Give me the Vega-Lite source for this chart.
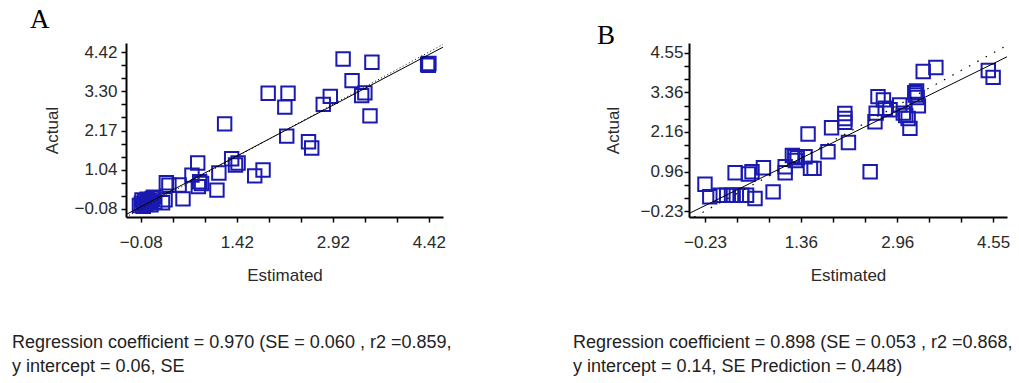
{
  "$schema": "https://vega.github.io/schema/vega-lite/v6.json",
  "background": "white",
  "padding": {"left": 12, "top": 6, "right": 5, "bottom": 5},
  "bounds": "flush",
  "spacing": 563,
  "datasets": {
    "ptsA": [
      {"est": 3.08, "act": 4.22}, {"est": 3.53, "act": 4.13}, {"est": 4.40, "act": 4.07}, {"est": 4.41, "act": 4.04}, {"est": 4.42, "act": 4.09},
      {"est": 3.22, "act": 3.60}, {"est": 3.42, "act": 3.25}, {"est": 3.37, "act": 3.17}, {"est": 3.50, "act": 2.59}, {"est": 2.88, "act": 3.15},
      {"est": 2.77, "act": 2.92}, {"est": 1.91, "act": 3.24}, {"est": 2.22, "act": 3.24}, {"est": 2.17, "act": 2.84}, {"est": 1.23, "act": 2.36},
      {"est": 2.20, "act": 2.01}, {"est": 2.54, "act": 1.85}, {"est": 2.59, "act": 1.67}, {"est": 1.34, "act": 1.36}, {"est": 1.44, "act": 1.24},
      {"est": 1.40, "act": 1.18}, {"est": 1.83, "act": 1.04}, {"est": 1.70, "act": 0.87}, {"est": 1.14, "act": 0.95}, {"est": 1.11, "act": 0.46},
      {"est": 0.81, "act": 1.24}, {"est": 0.72, "act": 0.89}, {"est": 0.84, "act": 0.70}, {"est": 0.82, "act": 0.56}, {"est": 0.87, "act": 0.65},
      {"est": 0.58, "act": 0.21}, {"est": 0.32, "act": 0.67}, {"est": 0.36, "act": 0.60}, {"est": 0.52, "act": 0.61}, {"est": 0.30, "act": 0.18},
      {"est": 0.26, "act": 0.10}, {"est": -0.10, "act": 0.02}, {"est": -0.07, "act": 0.08}, {"est": -0.04, "act": 0.00}, {"est": -0.02, "act": 0.14},
      {"est": 0.00, "act": 0.05}, {"est": 0.02, "act": 0.20}, {"est": 0.04, "act": 0.10}, {"est": 0.06, "act": 0.16}, {"est": 0.08, "act": 0.04},
      {"est": 0.10, "act": 0.22}, {"est": 0.14, "act": 0.12}, {"est": -0.06, "act": 0.18}, {"est": 0.12, "act": 0.26}
    ],
    "lineA": [
      {"est": -0.31, "act": -0.2407, "kind": "fit"}, {"est": 4.64, "act": 4.5608, "kind": "fit"},
      {"est": -0.31, "act": -0.31, "kind": "unit"}, {"est": 4.64, "act": 4.64, "kind": "unit"}
    ],
    "ptsB": [
      {"est": -0.23, "act": 0.58}, {"est": -0.15, "act": 0.20}, {"est": 0.02, "act": 0.25}, {"est": 0.13, "act": 0.25}, {"est": 0.21, "act": 0.25},
      {"est": 0.29, "act": 0.25}, {"est": 0.38, "act": 0.25}, {"est": 0.46, "act": 0.25}, {"est": 0.27, "act": 0.93}, {"est": 0.49, "act": 0.89},
      {"est": 0.55, "act": 0.96}, {"est": 0.60, "act": 0.15}, {"est": 0.74, "act": 1.08}, {"est": 0.90, "act": 0.35}, {"est": 1.10, "act": 0.93},
      {"est": 1.10, "act": 1.11}, {"est": 1.22, "act": 1.45}, {"est": 1.26, "act": 1.41}, {"est": 1.30, "act": 1.38}, {"est": 1.27, "act": 1.30},
      {"est": 1.43, "act": 1.41}, {"est": 1.52, "act": 1.06}, {"est": 1.58, "act": 1.06}, {"est": 1.48, "act": 2.10}, {"est": 1.81, "act": 1.56},
      {"est": 1.87, "act": 2.29}, {"est": 2.09, "act": 2.72}, {"est": 2.09, "act": 2.57}, {"est": 2.09, "act": 2.45}, {"est": 2.15, "act": 1.84},
      {"est": 2.51, "act": 0.96}, {"est": 2.59, "act": 2.47}, {"est": 2.64, "act": 3.23}, {"est": 2.61, "act": 2.73}, {"est": 2.73, "act": 3.13},
      {"est": 2.76, "act": 2.88}, {"est": 2.84, "act": 2.83}, {"est": 3.00, "act": 2.98}, {"est": 3.06, "act": 2.73}, {"est": 3.10, "act": 2.66},
      {"est": 3.14, "act": 2.57}, {"est": 3.17, "act": 2.27}, {"est": 3.25, "act": 3.35}, {"est": 3.28, "act": 3.40}, {"est": 3.26, "act": 3.28},
      {"est": 3.29, "act": 3.20}, {"est": 3.31, "act": 2.95}, {"est": 3.39, "act": 3.99}, {"est": 3.60, "act": 4.11}, {"est": 4.47, "act": 4.02},
      {"est": 4.55, "act": 3.81}
    ],
    "lineB": [
      {"est": -0.495, "act": -0.3045, "kind": "fit"}, {"est": 4.78, "act": 4.4324, "kind": "fit"},
      {"est": -0.41, "act": -0.41, "kind": "unit"}, {"est": 4.78, "act": 4.78, "kind": "unit"}
    ]
  },
  "hconcat": [
    {
      "title": {
        "text": ["Regression coefficient = 0.970 (SE = 0.060 , r2 =0.859,", "y intercept = 0.06, SE"],
        "orient": "bottom", "anchor": "start", "align": "left", "frame": "group",
        "font": "Liberation Sans", "fontSize": 18, "fontWeight": "normal", "color": "#222", "lineHeight": 24, "offset": 51, "dx": -114
      },
      "vconcat": [
        {
          "title": {"text": "A", "orient": "top", "anchor": "start", "frame": "group", "font": "Liberation Serif", "fontSize": 27, "fontWeight": "normal", "color": "#000", "dx": -96, "offset": 9},
          "width": 317,
          "height": 174,
          "encoding": {
            "x": {"field": "est", "type": "quantitative",
              "scale": {"domain": [-0.31, 4.64], "nice": false, "zero": false},
              "axis": {"values": [-0.08, 0.42, 0.92, 1.42, 1.92, 2.42, 2.92, 3.42, 3.92, 4.42],
                "labelExpr": "indexof([-0.08, 1.42, 2.92, 4.42], datum.value) >= 0 ? format(datum.value, '.2f') : ''",
                "title": "Estimated", "grid": false, "tickSize": 5, "tickWidth": 1.5, "tickColor": "#000",
                "domainColor": "#000", "domainWidth": 2, "labelFont": "Liberation Sans", "labelFontSize": 17, "labelColor": "#2a2a2a",
                "labelPadding": 12, "labelFlush": false, "labelOverlap": false,
                "titleFont": "Liberation Sans", "titleFontSize": 17, "titleFontWeight": "normal", "titleColor": "#2a2a2a", "titlePadding": 17}},
            "y": {"field": "act", "type": "quantitative",
              "scale": {"domain": [-0.31, 4.68], "nice": false, "zero": false},
              "axis": {"values": [-0.08, 0.295, 0.67, 1.04, 1.42, 1.795, 2.17, 2.545, 2.92, 3.3, 3.67, 4.045, 4.42],
                "labelExpr": "indexof([-0.08, 1.04, 2.17, 3.3, 4.42], datum.value) >= 0 ? format(datum.value, '.2f') : ''",
                "title": "Actual", "grid": false, "tickSize": 5, "tickWidth": 1.5, "tickColor": "#000",
                "domainColor": "#000", "domainWidth": 2, "labelFont": "Liberation Sans", "labelFontSize": 17, "labelColor": "#2a2a2a",
                "labelPadding": 4, "labelFlush": false, "labelOverlap": false,
                "titleFont": "Liberation Sans", "titleFontSize": 17, "titleFontWeight": "normal", "titleColor": "#2a2a2a", "titlePadding": 12}}
          },
          "layer": [
            {"data": {"name": "ptsA"}, "mark": {"type": "point", "shape": "square", "filled": false, "size": 180, "stroke": "#1a1ab0", "strokeWidth": 2, "opacity": 1, "clip": true}},
            {"data": {"name": "lineA"}, "transform": [{"filter": "datum.kind == 'unit'"}], "mark": {"type": "line", "color": "#000", "strokeWidth": 1, "strokeDash": [1, 2.5], "clip": true}},
            {"data": {"name": "lineA"}, "transform": [{"filter": "datum.kind == 'fit'"}], "mark": {"type": "line", "color": "#000", "strokeWidth": 1, "clip": true}}
          ]
        }
      ]
    },
    {
      "title": {
        "text": ["Regression coefficient = 0.898 (SE = 0.053 , r2 =0.868,", "y intercept = 0.14, SE Prediction = 0.448)"],
        "orient": "bottom", "anchor": "start", "align": "left", "frame": "group",
        "font": "Liberation Sans", "fontSize": 18, "fontWeight": "normal", "color": "#222", "lineHeight": 24, "offset": 51, "dx": -116
      },
      "vconcat": [
        {
          "title": {"text": "B", "orient": "top", "anchor": "start", "frame": "group", "font": "Liberation Serif", "fontSize": 27, "fontWeight": "normal", "color": "#000", "dx": -92, "offset": -7},
          "width": 318,
          "height": 174,
          "encoding": {
            "x": {"field": "est", "type": "quantitative",
              "scale": {"domain": [-0.495, 4.78], "nice": false, "zero": false},
              "axis": {"values": [-0.23, 0.301, 0.832, 1.36, 1.894, 2.426, 2.96, 3.488, 4.019, 4.55],
                "labelExpr": "indexof([-0.23, 1.36, 2.96, 4.55], datum.value) >= 0 ? format(datum.value, '.2f') : ''",
                "title": "Estimated", "grid": false, "tickSize": 5, "tickWidth": 1.5, "tickColor": "#000",
                "domainColor": "#000", "domainWidth": 2, "labelFont": "Liberation Sans", "labelFontSize": 17, "labelColor": "#2a2a2a",
                "labelPadding": 12, "labelFlush": false, "labelOverlap": false,
                "titleFont": "Liberation Sans", "titleFontSize": 17, "titleFontWeight": "normal", "titleColor": "#2a2a2a", "titlePadding": 17}},
            "y": {"field": "act", "type": "quantitative",
              "scale": {"domain": [-0.41, 4.85], "nice": false, "zero": false},
              "axis": {"values": [-0.23, 0.168, 0.567, 0.96, 1.363, 1.762, 2.16, 2.558, 2.957, 3.36, 3.753, 4.152, 4.55],
                "labelExpr": "indexof([-0.23, 0.96, 2.16, 3.36, 4.55], datum.value) >= 0 ? format(datum.value, '.2f') : ''",
                "title": "Actual", "grid": false, "tickSize": 5, "tickWidth": 1.5, "tickColor": "#000",
                "domainColor": "#000", "domainWidth": 2, "labelFont": "Liberation Sans", "labelFontSize": 17, "labelColor": "#2a2a2a",
                "labelPadding": 1, "labelFlush": false, "labelOverlap": false,
                "titleFont": "Liberation Sans", "titleFontSize": 17, "titleFontWeight": "normal", "titleColor": "#2a2a2a", "titlePadding": 17}}
          },
          "layer": [
            {"data": {"name": "ptsB"}, "mark": {"type": "point", "shape": "square", "filled": false, "size": 180, "stroke": "#1a1ab0", "strokeWidth": 2, "opacity": 1, "clip": true}},
            {"data": {"name": "lineB"}, "transform": [{"filter": "datum.kind == 'unit'"}], "mark": {"type": "line", "color": "#000", "strokeWidth": 1.2, "strokeDash": [1.5, 8], "clip": true}},
            {"data": {"name": "lineB"}, "transform": [{"filter": "datum.kind == 'fit'"}], "mark": {"type": "line", "color": "#000", "strokeWidth": 1, "clip": true}}
          ]
        }
      ]
    }
  ],
  "config": {"view": {"stroke": null}}
}
